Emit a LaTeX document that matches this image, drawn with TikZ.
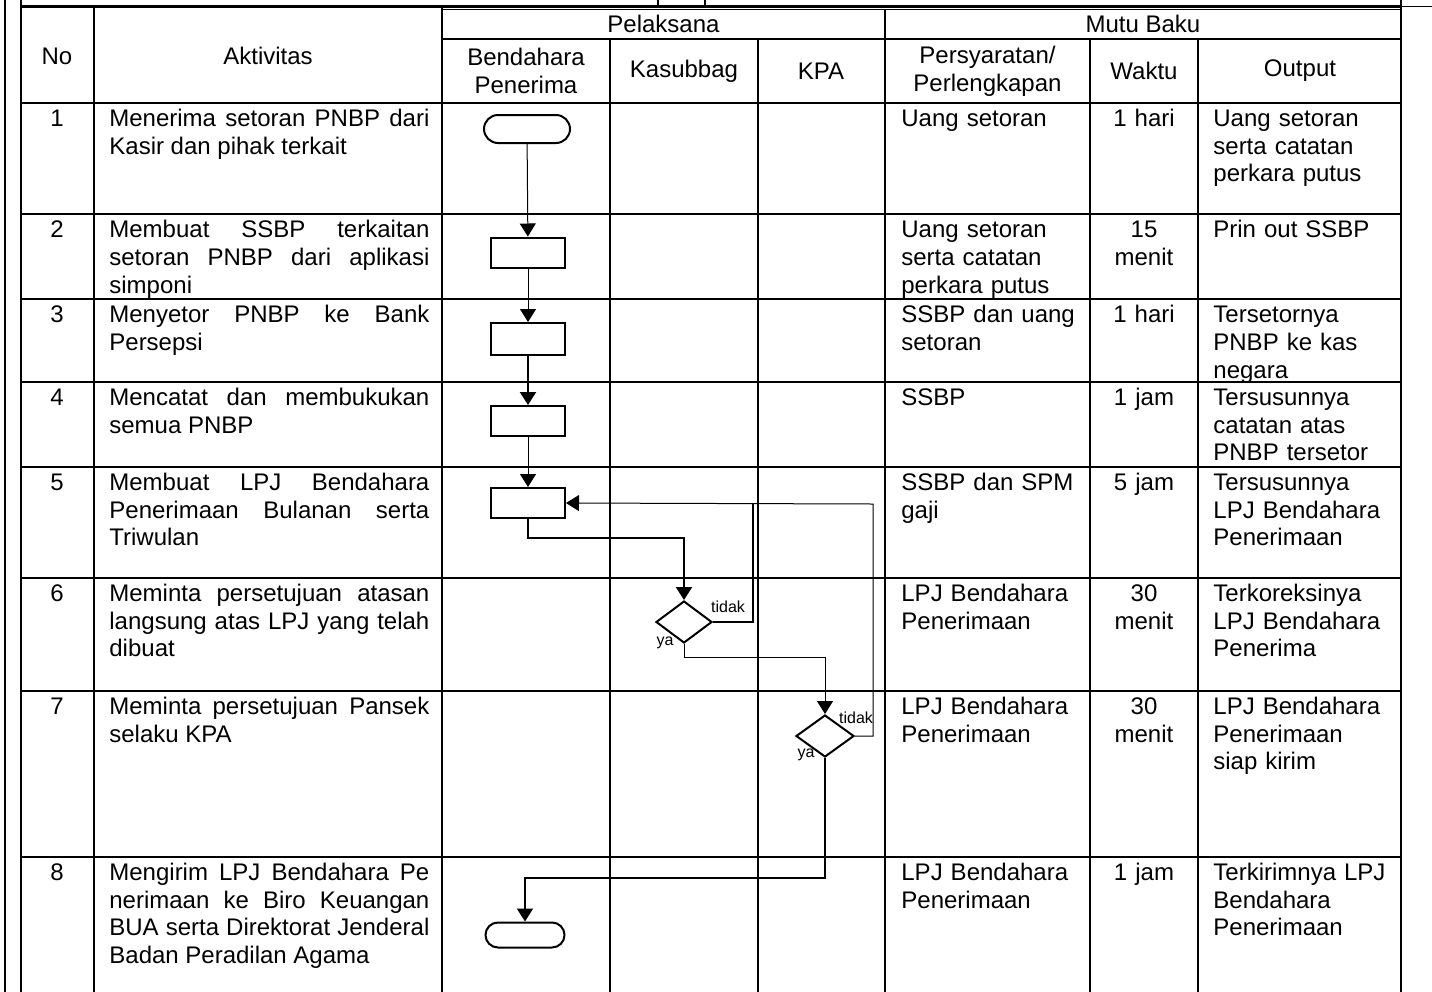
\documentclass[tikz,border=0pt]{standalone}
\usepackage{fontspec}
\setmainfont{Liberation Sans}
\usetikzlibrary{arrows.meta,shapes.geometric}
\newcommand{\cellstrut}{\rule{0pt}{10pt}}

\tikzset{
  txt/.style={inner sep=0pt,font=\fontsize{12}{13.8}\selectfont},
  hd/.style={txt,align=center},
  nocol/.style={txt,anchor=north,execute at begin node=\cellstrut},
  akt/.style={txt,anchor=north west,text width=160pt,align=justify,execute at begin node=\cellstrut},
  syr/.style={txt,anchor=north west,text width=92pt,align=left,execute at begin node=\cellstrut},
  wkt/.style={txt,anchor=north,text width=50pt,align=center,execute at begin node=\cellstrut},
  term/.style={draw,line width=1pt,rounded corners=7pt,minimum width=43pt,minimum height=14pt,inner sep=0pt},
  box/.style={draw,line width=1pt,minimum width=37pt,minimum height=15pt,inner sep=0pt},
  dec/.style={draw,line width=1pt,diamond,minimum width=28pt,minimum height=21pt,inner sep=0pt},
  lbl/.style={inner sep=0pt,font=\fontsize{8}{9.6}\selectfont},
  flow/.style={line width=0.5pt,-{Triangle[length=6.5pt,width=8pt]}},
  flowb/.style={line width=1pt,-{Triangle[length=6.5pt,width=8pt]}},
  grid/.style={line width=1pt}
}

\begin{document}
\begin{tikzpicture}[x=0.5pt,y=-0.5pt]
\useasboundingbox (0,0) rectangle (1432,992);

% table frame
\draw[grid] (5,0) -- (5,992);
\draw[grid] (20.7,0) -- (20.7,992);
\draw[grid] (1401,0) -- (1401,992);
\draw[grid] (657.7,0) -- (657.7,6.5);
\draw[grid] (705,0) -- (705,6.5);
\draw[line width=1.5pt] (20.7,6.5) -- (1401,6.5);
\draw[line width=0.6pt] (1401,6.5) -- (1432,6.5);
\draw[line width=0.6pt] (442,9.5) -- (1401,9.5);
\draw[grid] (442,39) -- (1401,39);
\draw[grid] (94,6.5) -- (94,992);
\draw[grid] (442,6.5) -- (442,992);
\draw[grid] (885,9.5) -- (885,992);
\foreach \x in {610,757.7,1090,1198}
  \draw[grid] (\x,39) -- (\x,992);
\foreach \y in {102.7,214,299,381.7,466.7,577.7,690.7,856.7}
  \draw[grid] (20.7,\y) -- (1401,\y);

% header
\node[hd] (hno) at (57,56) {No};
\node[hd] (hakt) at (268,56) {Aktivitas};
\node[hd] (hpel) at (663.5,24) {Pelaksana};
\node[hd] (hmutu) at (1143,24) {Mutu Baku};
\node[hd] (hbend) at (526,71) {Bendahara\\Penerima};
\node[hd] (hkas) at (684,71) {Kasubbag};
\node[hd] (hkpa) at (821,71) {KPA};
\node[hd] (hsyr) at (987.5,71) {Persyaratan/\\Perlengkapan};
\node[hd] (hwkt) at (1144,71) {Waktu};
\node[hd] (hout) at (1300,71) {Output};

% rows
\node[nocol] (no1) at (57,106.2) {1};
\node[akt] (akt1) at (109,106.2) {Menerima setoran PNBP dari\linebreak Kasir dan pihak terkait};
\node[syr] (syr1) at (901,106.2) {Uang setoran};
\node[wkt] (wkt1) at (1144,106.2) {1 hari};
\node[syr] (out1) at (1213,106.2) {Uang setoran\\serta catatan\\perkara putus};

\node[nocol] (no2) at (57,217.5) {2};
\node[akt] (akt2) at (109,217.5) {Membuat SSBP terkaitan\linebreak setoran PNBP dari aplikasi\linebreak simponi};
\node[syr] (syr2) at (901,217.5) {Uang setoran\\serta catatan\\perkara putus};
\node[wkt] (wkt2) at (1144,217.5) {15\\menit};
\node[syr] (out2) at (1213,217.5) {Prin out SSBP};

\node[nocol] (no3) at (57,302.5) {3};
\node[akt] (akt3) at (109,302.5) {Menyetor PNBP ke Bank\linebreak Persepsi};
\node[syr] (syr3) at (901,302.5) {SSBP dan uang\\setoran};
\node[wkt] (wkt3) at (1144,302.5) {1 hari};
\node[syr] (out3) at (1213,302.5) {Tersetornya\\PNBP ke kas\\negara};

\node[nocol] (no4) at (57,385.2) {4};
\node[akt] (akt4) at (109,385.2) {Mencatat dan membukukan\linebreak semua PNBP};
\node[syr] (syr4) at (901,385.2) {SSBP};
\node[wkt] (wkt4) at (1144,385.2) {1 jam};
\node[syr] (out4) at (1213,385.2) {Tersusunnya\\catatan atas\\PNBP tersetor};

\node[nocol] (no5) at (57,470.2) {5};
\node[akt] (akt5) at (109,470.2) {Membuat LPJ Bendahara\linebreak Penerimaan Bulanan serta\linebreak Triwulan};
\node[syr] (syr5) at (901,470.2) {SSBP dan SPM\\gaji};
\node[wkt] (wkt5) at (1144,470.2) {5 jam};
\node[syr] (out5) at (1213,470.2) {Tersusunnya\\LPJ Bendahara\\Penerimaan};

\node[nocol] (no6) at (57,581.2) {6};
\node[akt] (akt6) at (109,581.2) {Meminta persetujuan atasan\linebreak langsung atas LPJ yang telah\linebreak dibuat};
\node[syr] (syr6) at (901,581.2) {LPJ Bendahara\\Penerimaan};
\node[wkt] (wkt6) at (1144,581.2) {30\\menit};
\node[syr] (out6) at (1213,581.2) {Terkoreksinya\\LPJ Bendahara\\Penerima};

\node[nocol] (no7) at (57,694.2) {7};
\node[akt] (akt7) at (109,694.2) {Meminta persetujuan Pansek\linebreak selaku KPA};
\node[syr] (syr7) at (901,694.2) {LPJ Bendahara\\Penerimaan};
\node[wkt] (wkt7) at (1144,694.2) {30\\menit};
\node[syr] (out7) at (1213,694.2) {LPJ Bendahara\\Penerimaan\\siap kirim};

\node[nocol] (no8) at (57,860.2) {8};
\node[akt] (akt8) at (109,860.2) {Mengirim LPJ Bendahara Pe\linebreak nerimaan ke Biro Keuangan\linebreak BUA serta Direktorat Jenderal\linebreak Badan Peradilan Agama};
\node[syr] (syr8) at (901,860.2) {LPJ Bendahara\\Penerimaan};
\node[wkt] (wkt8) at (1144,860.2) {1 jam};
\node[syr] (out8) at (1213,860.2) {Terkirimnya LPJ\\Bendahara\\Penerimaan};

% flow
\node[term] (t1) at (527,129) {};
\node[box] (r2) at (528,252.5) {};
\node[box,minimum height=16pt] (r3) at (528,339) {};
\node[box] (r4) at (528,421) {};
\node[box] (r5) at (528,503) {};
\node[dec] (d6) at (684,622) {};
\node[dec,minimum width=29pt] (d7) at (825,736) {};
\node[term,minimum width=39.5pt,minimum height=12.5pt,rounded corners=6.25pt] (t8) at (525,935) {};

\node[lbl] (tdk6) at (728,607) {tidak};
\node[lbl] (ya6) at (665,643) {ya};
\node[lbl] (tdk7) at (856,718) {tidak};
\node[lbl] (ya7) at (806,755) {ya};

\coordinate (fb6) at (752.7,504);
\coordinate (fb7) at (873,504);

\draw[flow] (t1) -- (r2);
\draw[flow] (r2) -- (r3);
\draw[flowb] (r3) -- (r4);
\draw[flow] (r4) -- (r5);
\draw[flowb] (r5.south) -- ++(0,18.7) -| (d6.north);
\draw[line width=1pt] (d6.east) -| (fb6);
\draw[flow] (d7.east) -| (fb7) -- (r5.east);
\draw[flow] (d6.south) -- ++(0,13) -| (d7.north);
\draw[flowb] (d7.south) -- ++(0,120) -| (t8.north);
\end{tikzpicture}
\end{document}
